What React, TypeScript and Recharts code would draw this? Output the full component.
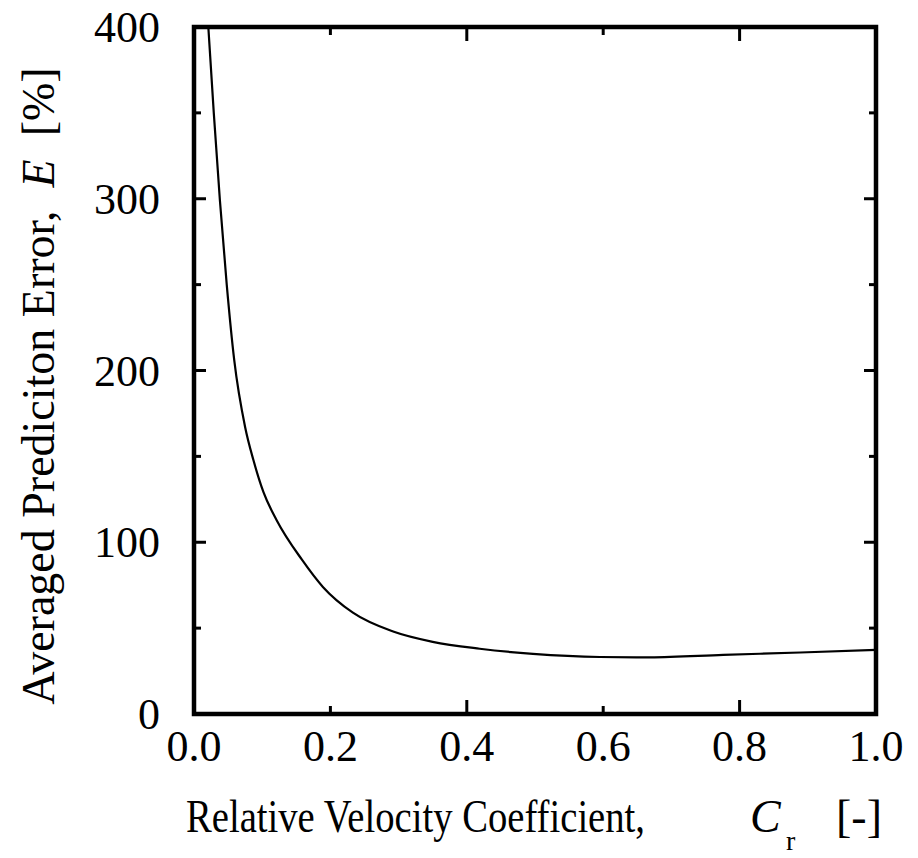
import { LineChart, Line, XAxis, YAxis, ReferenceArea, Label } from 'recharts'

// values
const crValues = [
  0.021, 0.029, 0.038, 0.048, 0.059, 0.075, 0.087, 0.102, 0.121, 0.158, 0.189, 0.233,
  0.292, 0.35, 0.419, 0.497, 0.595, 0.669, 0.776, 0.889, 1.0,
]
const errorValues = [
  400, 350, 299, 250, 206, 167, 148, 129, 113, 90, 74, 59,
  48, 42, 38, 35, 33.2, 33, 34.4, 35.8, 37.3,
]
const xTicks = [0, 0.2, 0.4, 0.6, 0.8, 1.0]
const xLongTicks = [0.4, 0.8]
const yTicks = [0, 50, 100, 150, 200, 250, 300, 350, 400]
const yLabelTicks = [0, 100, 200, 300, 400]

const W = 918
const H = 858
const MARGIN = { top: 27, right: 42, bottom: 0, left: 0 }
const PLOT_TOP = MARGIN.top
const PLOT_RIGHT = W - MARGIN.right
const FONT = 'Liberation Serif, Times New Roman, Times, serif'
const FONT_SIZE = 44
const txt = { fontFamily: FONT, fontSize: FONT_SIZE, whiteSpace: 'pre' as const }
const titleTxt = { ...txt, fontSize: 46 }

const data = crValues.map((cr, i) => ({ cr, error: errorValues[i] }))

function XTick({ x, y, payload }: any) {
  const v = payload.value as number
  const inner = v > 0 && v < 1
  const len = xLongTicks.includes(v) ? 14 : 8
  return (
    <g>
      {inner && <line x1={x} y1={y} x2={x} y2={y - len} stroke="#000" strokeWidth={3} />}
      {inner && <line x1={x} y1={PLOT_TOP} x2={x} y2={PLOT_TOP + len} stroke="#000" strokeWidth={3} />}
      <text x={x} y={y + 47} textAnchor="middle" style={txt} fill="#000">
        {v.toFixed(1)}
      </text>
    </g>
  )
}

function YTick({ x, y, payload }: any) {
  const v = payload.value as number
  const labelled = yLabelTicks.includes(v)
  const inner = v > 0 && v < 400
  const len = labelled ? 12 : 7
  return (
    <g>
      {inner && <line x1={x} y1={y} x2={x + len} y2={y} stroke="#000" strokeWidth={3} />}
      {inner && <line x1={PLOT_RIGHT} y1={y} x2={PLOT_RIGHT - len} y2={y} stroke="#000" strokeWidth={3} />}
      {labelled && (
        <text x={x - 34} y={y + 15} textAnchor="end" style={txt} fill="#000">
          {v}
        </text>
      )}
    </g>
  )
}

function XTitle({ viewBox }: any) {
  const x0 = viewBox.x - 8
  const base = viewBox.y + 118
  return (
    <g fill="#000">
      <text x={x0} y={base} style={titleTxt} textLength={459} lengthAdjust="spacingAndGlyphs">
        Relative Velocity Coefficient,
      </text>
      <text x={x0 + 564} y={base} style={titleTxt} fontStyle="italic">
        C
      </text>
      <text x={x0 + 600} y={base + 18} style={{ ...titleTxt, fontSize: 28 }}>
        r
      </text>
      <text x={x0 + 650} y={base} style={titleTxt}>
        [-]
      </text>
    </g>
  )
}

function YTitle() {
  const cx = 54
  const cy = 386
  return (
    <text
      x={cx}
      y={cy}
      transform={`rotate(-90, ${cx}, ${cy})`}
      textAnchor="middle"
      style={titleTxt}
      fill="#000"
    >
      {'Averaged Prediciton Error,  '}
      <tspan fontStyle="italic">E</tspan>
      {'  [%]'}
    </text>
  )
}

export default function App() {
  return (
    <div style={{ position: 'absolute', left: 0, top: 0, width: W, height: H, background: '#fff' }}>
      <LineChart width={W} height={H} data={data} margin={MARGIN}>
        <XAxis
          dataKey="cr"
          type="number"
          domain={[0, 1]}
          ticks={xTicks}
          interval={0}
          height={144}
          axisLine={false}
          tickLine={false}
          tickSize={0}
          tickMargin={0}
          tick={(p: any) => <XTick {...p} />}
          allowDataOverflow
        >
          <Label content={(p: any) => <XTitle {...p} />} />
        </XAxis>
        <YAxis
          type="number"
          domain={[0, 400]}
          ticks={yTicks}
          interval={0}
          width={194}
          axisLine={false}
          tickLine={false}
          tickSize={0}
          tickMargin={0}
          tick={(p: any) => <YTick {...p} />}
          allowDataOverflow
        >
          <Label content={() => <YTitle />} />
        </YAxis>
        <ReferenceArea
          x1={0}
          x2={1}
          y1={0}
          y2={400}
          fill="none"
          fillOpacity={0}
          stroke="#000"
          strokeWidth={4.5}
          ifOverflow="visible"
        />
        <Line
          type="monotone"
          dataKey="error"
          stroke="#000"
          strokeWidth={2.2}
          dot={false}
          activeDot={false}
          isAnimationActive={false}
        />
      </LineChart>
    </div>
  )
}
